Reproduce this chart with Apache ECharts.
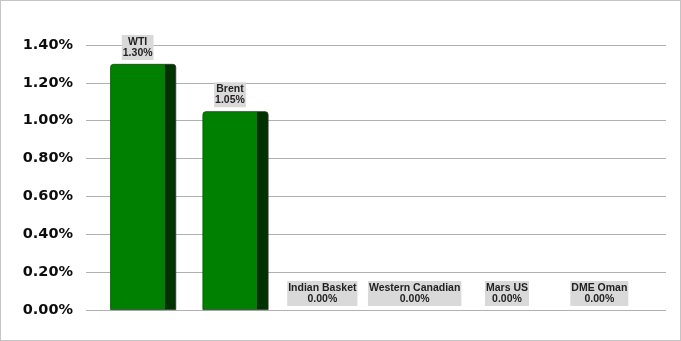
<!DOCTYPE html>
<html><head><meta charset="utf-8">
<script src="https://cdn.jsdelivr.net/npm/echarts@6/dist/echarts.min.js"></script>
<style>
html,body{margin:0;padding:0;background:#fff;}
#c{width:681px;height:341px;box-sizing:border-box;border:1px solid #c4c4c4;}
</style></head>
<body><div id="c"></div>
<script>
const categories = ['WTI', 'Brent', 'Indian Basket', 'Western Canadian', 'Mars US', 'DME Oman'];
const values = [1.30, 1.05, 0.00, 0.00, 0.00, 0.00];
const yTicks = { min: 0, max: 1.4, interval: 0.2 };

const chart = echarts.init(document.getElementById('c'), null, { renderer: 'canvas' });
const face = {
  type: 'linear', x: 0, y: 0, x2: 1, y2: 0,
  colorStops: [
    { offset: 0, color: '#008000' }, { offset: 0.833, color: '#008000' },
    { offset: 0.833, color: '#003300' }, { offset: 1, color: '#003300' }
  ]
};
chart.setOption({
  animation: false,
  grid: [
    { left: 96, right: 29, top: 44, bottom: 30 },
    { left: 85, right: 14, top: 44, bottom: 30 }
  ],
  xAxis: [
    { type: 'category', data: categories, gridIndex: 0, axisLine: { show: false }, axisTick: { show: false }, axisLabel: { show: false } },
    { type: 'category', data: categories, gridIndex: 1, show: false }
  ],
  yAxis: [
    { type: 'value', gridIndex: 0, min: yTicks.min, max: yTicks.max, interval: yTicks.interval, show: false, splitLine: { show: false } },
    { type: 'value', gridIndex: 1, min: yTicks.min, max: yTicks.max, interval: yTicks.interval,
      axisLine: { show: false }, axisTick: { show: false },
      splitLine: { show: true, lineStyle: { color: '#b0b0b0', width: 1 } },
      axisLabel: { margin: 13, color: '#0d0d0d', fontFamily: 'DejaVu Sans', fontWeight: 'bold', fontSize: 14.5,
        formatter: v => v.toFixed(2) + '%' } }
  ],
  series: [{
    type: 'bar', xAxisIndex: 0, yAxisIndex: 0,
    data: values.map(v => ({ value: v, itemStyle: v === 0 ? { borderWidth: 0, color: 'rgba(0,0,0,0)' } : {} })),
    barWidth: 66,
    itemStyle: { color: face, borderColor: '#1d3d1d', borderWidth: 0.8, borderRadius: [3, 3, 0, 0] },
    label: {
      show: true, position: 'top', distance: 4, offset: [-5.5, 0],
      formatter: p => p.name + '\n' + p.value.toFixed(2) + '%',
      fontFamily: 'Liberation Sans, Arial, sans-serif', fontSize: 10.5, fontWeight: 'bold', lineHeight: 11.5,
      color: '#222', backgroundColor: '#d9d9d9', padding: [1, 1, 1, 1], align: 'center'
    }
  }]
});
</script></body></html>
